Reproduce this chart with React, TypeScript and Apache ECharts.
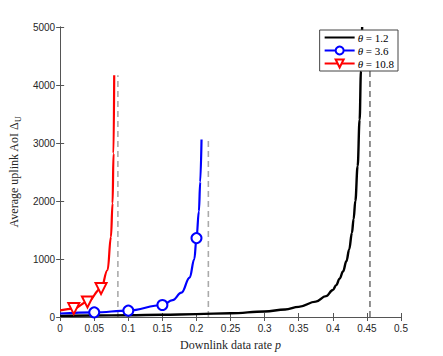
import React, { useEffect, useRef } from "react";
import * as echarts from "echarts";

// Black curve, theta = 1.2 (no markers)
const blackP = [0, 0.05, 0.1, 0.15, 0.2, 0.25, 0.3, 0.33, 0.35, 0.375, 0.39, 0.4, 0.405, 0.41, 0.415, 0.42, 0.424, 0.428, 0.4305, 0.433, 0.4364, 0.4393, 0.4413, 0.443];
const blackV = [20, 25, 30, 38, 50, 65, 95, 130, 175, 265, 360, 465, 550, 662, 785, 965, 1165, 1450, 1690, 2000, 2600, 3400, 4250, 5000];

// Blue curve, theta = 3.6 (markers at 0.05, 0.1, 0.15, 0.2)
const blueP = [0, 0.05, 0.1, 0.15, 0.165, 0.178, 0.19, 0.1968, 0.2, 0.2035, 0.2055, 0.2074];
const blueV = [60, 80, 110, 207, 292, 420, 680, 1000, 1360, 1820, 2330, 3060];
const blueMarks = [0.05, 0.1, 0.15, 0.2];

// Red curve, theta = 10.8 (markers at 0.02, 0.04, 0.06)
const redP = [0, 0.02, 0.04, 0.06, 0.0696, 0.0745, 0.0769, 0.0783, 0.0793];
const redV = [115, 145, 260, 490, 810, 1380, 1960, 2820, 4170];
const redMarks = [0.02, 0.04, 0.06];

// Asymptotes p = 1/(1+theta) and their top values
const asymP = [0.4545, 0.2174, 0.0847];
const asymTop = [5000, 3060, 4170];

const names = ["θ = 1.2", "θ = 3.6", "θ = 10.8"];

const xTicks = [0, 0.5, 0.05];
const yTicks = [0, 5000, 1000];

function build(ps: number[], vs: number[], marks: number[]) {
  return ps.map((p, i) =>
    marks.indexOf(p) >= 0 ? { value: [p, vs[i]] } : { value: [p, vs[i]], symbol: "none" }
  );
}

export default function App() {
  const ref = useRef<HTMLDivElement>(null);
  useEffect(() => {
    if (!ref.current) return;
    const chart = echarts.init(ref.current, null, { renderer: "svg" });
    const axisCol = "#555";
    const labelCol = "#262626";
    const serif = "'Liberation Serif', 'DejaVu Serif', serif";
    const sans = "'Liberation Sans', Arial, sans-serif";
    const tickCommon = { show: true, inside: true, length: 4, lineStyle: { color: axisCol, width: 1 } };
    const legendRich = {
      i: { fontFamily: serif, fontStyle: "italic", fontSize: 11, color: "#000" },
      n: { fontFamily: serif, fontSize: 11, color: "#000" },
    };
    const dashed = asymP.map((p, i) => ({
      type: "line",
      name: "asym" + i,
      data: [[p, 0], [p, asymTop[i]]],
      symbol: "none",
      silent: true,
      z: 1,
      lineStyle: i === 0
        ? { color: "#222", width: 1, type: [6, 4] }
        : { color: "#aaa", width: 1.6, type: [6, 4] },
    }));
    chart.setOption({
      animation: false,
      grid: { left: 57.5, top: 27, width: 343.5, height: 290, show: false },
      legend: {
        data: [
          { name: names[0], icon: "path://M0,0 L0.01,0 L0.01,0.01 Z M0,4.1 L30,4.1 L30,5.9 L0,5.9 Z M29.99,10 L30,10 L30,9.99 Z", itemStyle: { color: "#000" } },
          { name: names[1] },
          { name: names[2] },
        ],
        orient: "vertical",
        right: 45,
        top: 30,
        itemWidth: 30,
        itemHeight: 10,
        itemGap: 2,
        padding: [2, 4, 2, 4],
        backgroundColor: "#fff",
        borderColor: "#444",
        borderWidth: 1,
        borderRadius: 0,
        formatter: (n: string) => "{i|θ}{n|" + n.slice(1) + "}",
        textStyle: { rich: legendRich, padding: [0, 0, 0, -2] },
      },
      xAxis: [
        {
          type: "value",
          min: xTicks[0],
          max: xTicks[1],
          interval: xTicks[2],
          axisLine: { show: true, lineStyle: { color: axisCol, width: 1 } },
          axisTick: tickCommon,
          splitLine: { show: false },
          axisLabel: { color: labelCol, fontFamily: sans, fontSize: 10, margin: 6 },
          name: "{n|Downlink data rate }{i|p}",
          nameLocation: "middle",
          nameGap: 22,
          nameTextStyle: {
            rich: {
              n: { fontFamily: serif, fontSize: 12, color: labelCol },
              i: { fontFamily: serif, fontSize: 12, fontStyle: "italic", color: labelCol },
            },
          },
        },
        {
          type: "value",
          position: "top",
          min: xTicks[0],
          max: xTicks[1],
          interval: xTicks[2],
          axisLine: { show: true, lineStyle: { color: axisCol, width: 1 } },
          axisTick: tickCommon,
          splitLine: { show: false },
          axisLabel: { show: false },
        },
      ],
      yAxis: [
        {
          type: "value",
          min: yTicks[0],
          max: yTicks[1],
          interval: yTicks[2],
          axisLine: { show: true, lineStyle: { color: axisCol, width: 1 } },
          axisTick: tickCommon,
          splitLine: { show: false },
          axisLabel: { color: labelCol, fontFamily: sans, fontSize: 10, margin: 5, formatter: (v: number) => String(v) },
          name: "{n|Average uplink AoI Δ}{s|U}",
          nameLocation: "middle",
          nameGap: 32,
          nameTextStyle: {
            rich: {
              n: { fontFamily: serif, fontSize: 12, color: labelCol },
              s: { fontFamily: serif, fontSize: 8, color: labelCol, padding: [8, 0, 0, 0] },
            },
          },
        },
        {
          type: "value",
          position: "right",
          min: yTicks[0],
          max: yTicks[1],
          interval: yTicks[2],
          axisLine: { show: true, lineStyle: { color: axisCol, width: 1 } },
          axisTick: tickCommon,
          splitLine: { show: false },
          axisLabel: { show: false },
        },
      ],
      series: [
        ...dashed,
        {
          type: "line",
          name: names[0],
          data: build(blackP, blackV, []),
          symbol: "none",
          smooth: 0.4,
          smoothMonotone: "x",
          color: "#000",
          lineStyle: { color: "#000", width: 2.4 },
          z: 3,
        },
        {
          type: "line",
          name: names[1],
          data: build(blueP, blueV, blueMarks),
          symbol: "emptyCircle",
          symbolSize: 10,
          showSymbol: true,
          showAllSymbol: true,
          smooth: 0.4,
          smoothMonotone: "x",
          color: "#0000ff",
          itemStyle: { color: "#0000ff", borderWidth: 2 },
          lineStyle: { color: "#0000ff", width: 2.2 },
          z: 4,
        },
        {
          type: "line",
          name: names[2],
          data: build(redP, redV, redMarks),
          symbol: "emptyTriangle",
          symbolRotate: 180,
          symbolSize: 11,
          showSymbol: true,
          showAllSymbol: true,
          smooth: 0.4,
          smoothMonotone: "x",
          color: "#ff0000",
          itemStyle: { color: "#ff0000", borderWidth: 2 },
          lineStyle: { color: "#ff0000", width: 2.2 },
          z: 5,
        },
      ],
    });
    return () => chart.dispose();
  }, []);
  return <div ref={ref} style={{ width: 443, height: 356, position: "absolute", left: 0, top: 0 }} />;
}
